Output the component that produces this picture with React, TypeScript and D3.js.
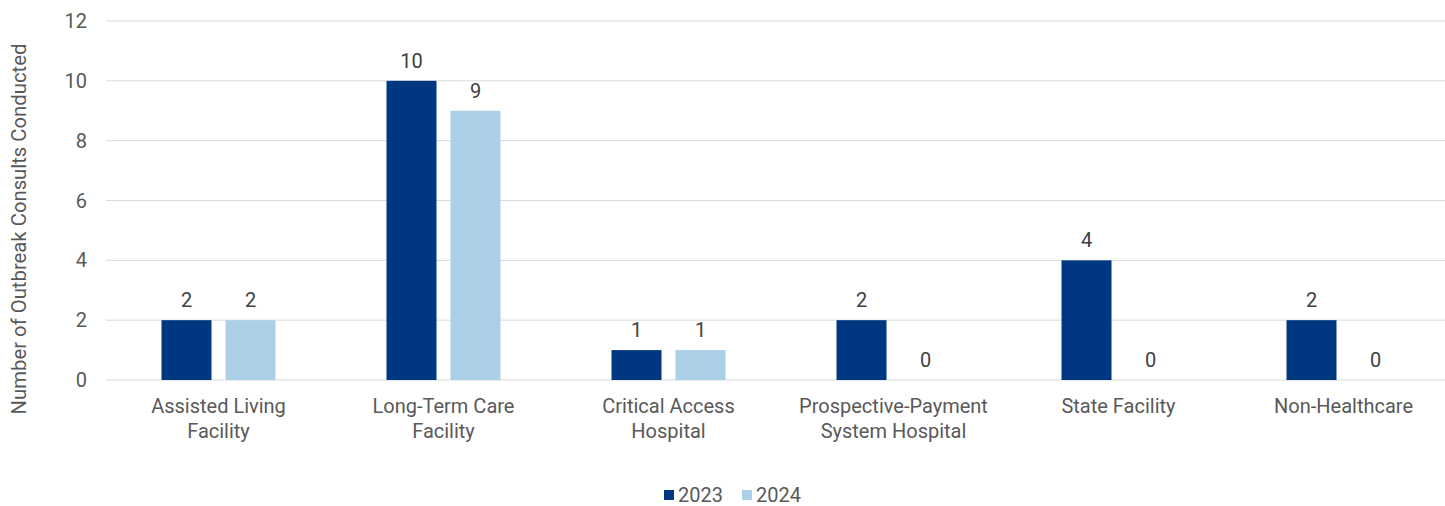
import React from "react";
import * as d3 from "d3";

const categories = [
  ["Assisted Living", "Facility"],
  ["Long-Term Care", "Facility"],
  ["Critical Access", "Hospital"],
  ["Prospective-Payment", "System Hospital"],
  ["State Facility"],
  ["Non-Healthcare"],
];
const seriesNames = ["2023", "2024"];
const values2023 = [2, 10, 1, 2, 4, 2];
const values2024 = [2, 9, 1, 0, 0, 0];
const yTicks = [0, 2, 4, 6, 8, 10, 12];
const colors = ["#003781", "#abcfe6"];

export default function App() {
  const W = 1445, H = 506;
  const x0 = 106, step = 225;
  const x = d3.scaleBand<number>().domain(d3.range(categories.length)).range([x0, x0 + step * categories.length]).paddingInner(0).paddingOuter(0);
  const y = d3.scaleLinear().domain([0, 12]).range([380, 21]);
  const barW = 50, gap = 14;
  const series = [values2023, values2024];
  const font = "Roboto, 'Noto Sans', sans-serif";
  const textColor = "#595959";
  const fs = 20;
  return (
    <svg width={W} height={H} style={{ position: "absolute", left: 0, top: 0, background: "#fff" }} fontFamily={font}>
      {yTicks.map((t) => (
        <g key={t}>
          <line x1={x0} x2={W} y1={y(t)} y2={y(t)} stroke="#d9d9d9" strokeWidth={1} />
          <text x={87} y={y(t)} dy="0.35em" textAnchor="end" fontSize={fs} fill={textColor}>{t}</text>
        </g>
      ))}
      <text transform={`translate(26,229) rotate(-90)`} textAnchor="middle" fontSize={20.3} fill={textColor}>
        Number of Outbreak Consults Conducted
      </text>
      {categories.map((c, i) => {
        const cx = (x(i) as number) + x.bandwidth() / 2;
        return (
          <g key={i}>
            {series.map((vals, s) => {
              const bx = cx - gap / 2 - barW + s * (barW + gap);
              const v = vals[i];
              return (
                <g key={s}>
                  {v > 0 && <rect x={bx} y={y(v)} width={barW} height={y(0) - y(v)} fill={colors[s]} />}
                  <text x={bx + barW / 2} y={y(v) - 13} textAnchor="middle" fontSize={fs} fill="#404040">{v}</text>
                </g>
              );
            })}
            {c.map((line, k) => (
              <text key={k} x={cx} y={413 + k * 25} textAnchor="middle" fontSize={fs} fill={textColor}>{line}</text>
            ))}
          </g>
        );
      })}
      {seriesNames.map((n, s) => (
        <g key={n} transform={`translate(${664 + s * 78},0)`}>
          <rect x={0} y={490} width={10} height={10} fill={colors[s]} />
          <text x={14} y={502} fontSize={fs} fill={textColor}>{n}</text>
        </g>
      ))}
    </svg>
  );
}
